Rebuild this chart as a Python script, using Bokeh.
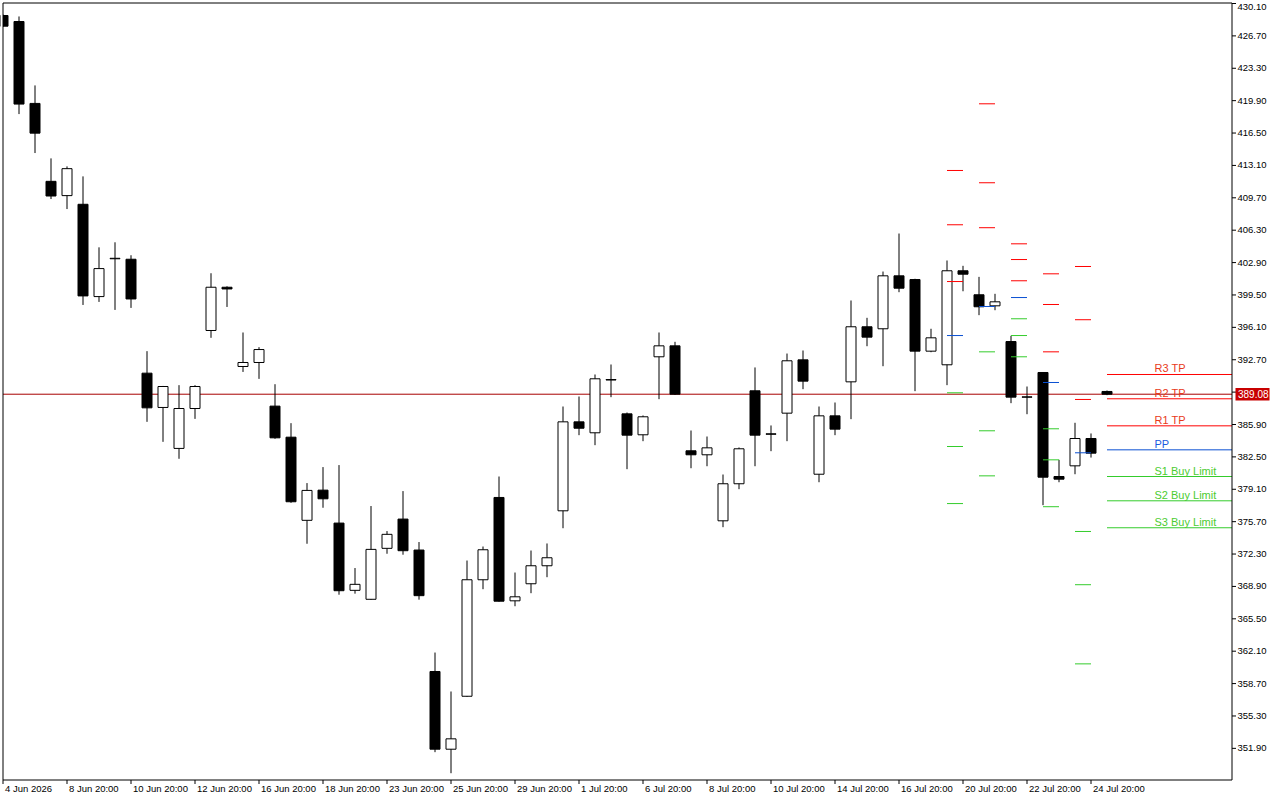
from bokeh.plotting import figure
from bokeh.models import Range1d, ColumnDataSource
from bokeh.embed import file_html
from bokeh.resources import INLINE
from bokeh.core.properties import value

# ---------------- data ----------------
opens = [428.84, 428.21, 419.61, 411.43, 409.93, 409.02, 399.33, 403.30, 403.25, 391.29,
         387.69, 383.39, 387.58, 395.77, 400.31, 391.99, 392.41, 387.83, 384.57, 375.84,
         379.01, 375.55, 368.49, 367.55, 372.90, 375.97, 372.72, 359.97, 351.81, 357.37,
         369.60, 378.24, 367.39, 369.18, 371.07, 376.84, 386.18, 385.03, 390.62, 387.02,
         384.82, 393.01, 394.16, 383.14, 382.72, 375.79, 379.68, 389.44, 384.92, 387.09,
         392.69, 380.68, 386.81, 390.38, 396.16, 395.95, 401.51, 401.12, 393.60, 392.17,
         402.04, 399.52, 398.36, 394.61, 388.80, 391.36, 380.44, 381.56, 384.43, 389.37]
highs = [428.95, 428.74, 421.50, 413.84, 413.00, 411.95, 404.50, 405.03, 403.67, 393.60,
         389.95, 390.03, 390.03, 401.78, 400.41, 395.56, 394.02, 390.13, 386.04, 379.75,
         381.43, 381.64, 370.83, 377.34, 374.71, 378.91, 373.56, 361.96, 357.87, 371.62,
         373.09, 380.44, 370.36, 372.67, 373.41, 387.79, 388.84, 391.15, 392.20, 387.16,
         386.85, 395.56, 394.58, 385.27, 384.64, 380.65, 383.49, 391.89, 385.80, 393.35,
         393.67, 387.79, 388.21, 398.92, 397.10, 401.96, 405.95, 401.20, 395.95, 403.12,
         402.56, 401.40, 399.62, 395.21, 389.89, 391.40, 382.19, 386.08, 384.96, 389.47]
lows = [427.65, 418.49, 414.40, 409.57, 408.52, 398.45, 398.77, 397.93, 398.14, 386.18,
        384.08, 382.30, 386.49, 395.00, 398.24, 391.42, 390.69, 384.40, 377.68, 373.38,
        377.16, 368.03, 368.14, 367.50, 372.33, 372.23, 367.51, 351.50, 349.29, 357.30,
        368.61, 367.30, 366.82, 368.19, 369.87, 375.01, 384.78, 383.73, 388.77, 381.21,
        384.15, 388.56, 389.00, 381.31, 381.52, 375.12, 379.11, 381.52, 383.10, 384.15,
        389.61, 379.84, 384.78, 386.46, 394.12, 392.02, 399.79, 389.40, 393.49, 390.03,
        399.89, 397.38, 397.90, 388.14, 386.98, 377.43, 379.84, 380.68, 382.43, 388.98]
closes = [427.72, 419.54, 416.49, 409.89, 412.76, 399.40, 402.27, 403.35, 399.08, 387.65,
          389.89, 387.58, 389.89, 400.31, 400.13, 392.41, 393.77, 384.50, 377.79, 378.98,
          378.10, 368.45, 369.12, 372.79, 374.37, 372.65, 367.93, 351.81, 352.90, 369.60,
          372.75, 367.35, 367.81, 371.07, 371.91, 386.18, 385.51, 390.70, 390.57, 384.78,
          386.71, 394.16, 389.08, 382.72, 383.45, 379.68, 383.35, 384.78, 384.88, 392.59,
          390.45, 386.81, 385.41, 396.16, 395.07, 401.51, 400.21, 393.60, 395.00, 402.04,
          401.68, 398.26, 398.78, 388.77, 388.77, 380.37, 380.16, 384.43, 382.89, 389.08]

x_tick_index = [0, 4, 8, 12, 16, 20, 24, 28, 32, 36, 40, 44, 48, 52, 56, 60, 64, 68]
x_tick_labels = ["4 Jun 2026", "8 Jun 20:00", "10 Jun 20:00", "12 Jun 20:00", "16 Jun 20:00",
                 "18 Jun 20:00", "23 Jun 20:00", "25 Jun 20:00", "29 Jun 20:00", "1 Jul 20:00",
                 "6 Jul 20:00", "8 Jul 20:00", "10 Jul 20:00", "14 Jul 20:00", "16 Jul 20:00",
                 "20 Jul 20:00", "22 Jul 20:00", "24 Jul 20:00"]
y_ticks = [351.90, 355.30, 358.70, 362.10, 365.50, 368.90, 372.30, 375.70, 379.10, 382.50,
           385.90, 389.30, 392.70, 396.10, 399.50, 402.90, 406.30, 409.70, 413.10, 416.50,
           419.90, 423.30, 426.70, 430.10]

pivot_names = ["R3", "R2", "R1", "PP", "S1", "S2", "S3"]
pivot_start = [59, 61, 63, 65, 67, 69]
pivot_end = [60, 62, 64, 66, 68, None]
pivot_levels = [
    [412.57, 406.87, 400.91, 395.24, 389.23, 383.59, 377.60],
    [419.57, 411.28, 406.56, 398.29, 393.53, 385.24, 380.51],
    [404.87, 403.22, 400.99, 399.23, 397.00, 395.24, 393.01],
    [401.72, 398.50, 393.53, 390.31, 385.45, 382.19, 377.27],
    [402.49, 396.90, 388.53, 382.93, 374.67, 369.08, 360.77],
    [391.15, 388.60, 385.76, 383.24, 380.44, 377.89, 375.06],
]
pivot_labels = ["R3 TP", "R2 TP", "R1 TP", "PP", "S1 Buy Limit", "S2 Buy Limit", "S3 Buy Limit"]
last_price = 389.08

# ---------------- layout / styles ----------------
W, H = 1280, 800
X0_PX, PITCH = 2.5, 16.0            # pixel centre of candle 0, pixels per candle
Y_REF_VAL, Y_REF_PX, PX_PER_UNIT = 430.1, 3.0, 9.525


def px2x(px):
    return (px - X0_PX) / PITCH


def py2v(py):
    return Y_REF_VAL - (py - Y_REF_PX) / PX_PER_UNIT


LEFT_PX, TOP_PX, RIGHT_PX, BOTTOM_PX = 2.5, 2.5, 1231.5, 779.5
X_LEFT, X_RIGHT = px2x(LEFT_PX), px2x(RIGHT_PX)
Y_TOP, Y_BOTTOM = py2v(TOP_PX), py2v(BOTTOM_PX)

RED = "#ff0000"
BLUE = "#0a50d2"
GREEN = "#34cc2c"
level_colors = [RED, RED, RED, BLUE, GREEN, GREEN, GREEN]
label_colors = ["#e83a1a", "#e83a1a", "#e83a1a", "#1a5ae0", "#4ccc30", "#4ccc30", "#4ccc30"]
FONT = "Liberation Sans"

p = figure(width=W, height=H, output_backend="svg", toolbar_location=None,
           x_range=Range1d(px2x(0), px2x(W)), y_range=Range1d(py2v(H), py2v(0)),
           x_axis_location=None, y_axis_location=None, min_border=0)
p.xgrid.visible = False
p.ygrid.visible = False
p.outline_line_color = None
p.background_fill_color = "white"
p.border_fill_color = "white"

# price line
p.segment(x0=[X_LEFT], y0=[last_price], x1=[X_RIGHT], y1=[last_price],
          line_color="#a80000", line_width=1)

# candles
xs = list(range(len(opens)))
src = ColumnDataSource(dict(
    x=xs, o=opens, h=highs, l=lows, c=closes,
    top=[max(o, c) for o, c in zip(opens, closes)],
    bottom=[min(o, c) for o, c in zip(opens, closes)],
    fill=["white" if c > o else "black" for o, c in zip(opens, closes)],
))
p.segment(x0="x", y0="l", x1="x", y1="h", source=src, line_color="black", line_width=1)
p.vbar(x="x", width=10 / PITCH, top="top", bottom="bottom", source=src,
       fill_color="fill", line_color="black", line_width=1)

# pivot segments
sx0, sx1, sy, sc = [], [], [], []
for st, en, levels in zip(pivot_start, pivot_end, pivot_levels):
    for lv, col in zip(levels, level_colors):
        sx0.append(st)
        sx1.append(en if en is not None else X_RIGHT)
        sy.append(lv)
        sc.append(col)
p.segment(x0=sx0, y0=sy, x1=sx1, y1=sy, line_color=sc, line_width=1)

# pivot labels for current period
p.text(x=[px2x(1154)] * len(pivot_labels), y=pivot_levels[-1], text=pivot_labels,
       text_color=label_colors, text_font=value(FONT), text_font_size="11px",
       text_align="left", text_baseline="bottom")

# mask outside the chart area (left strip, right axis area, bottom axis area)
p.quad(left=[px2x(0), X_RIGHT], right=[X_LEFT, px2x(W)],
       top=[py2v(0), py2v(0)], bottom=[py2v(H), py2v(H)],
       fill_color="white", line_color=None)
p.quad(left=[px2x(0)], right=[px2x(W)], top=[Y_BOTTOM], bottom=[py2v(H)],
       fill_color="white", line_color=None)

# frame: left, top, right axis, bottom axis
p.segment(x0=[X_LEFT, X_LEFT, X_RIGHT, X_LEFT], y0=[Y_BOTTOM, Y_TOP, Y_TOP, Y_BOTTOM],
          x1=[X_LEFT, X_RIGHT, X_RIGHT, X_RIGHT], y1=[Y_TOP, Y_TOP, Y_BOTTOM, Y_BOTTOM],
          line_color="black", line_width=1)

# y-axis ticks and labels (right); the top label is nudged down so it stays on the page
p.segment(x0=[X_RIGHT] * len(y_ticks), y0=y_ticks, x1=[px2x(RIGHT_PX + 4)] * len(y_ticks),
          y1=y_ticks, line_color="black", line_width=1)
label_offsets = [3 if v == max(y_ticks) else 0 for v in y_ticks]
p.text(x=[px2x(1237)] * len(y_ticks), y=y_ticks, text=[f"{v:.2f}" for v in y_ticks],
       y_offset=label_offsets,
       text_color="black", text_font=value(FONT), text_font_size="9.5px",
       text_align="left", text_baseline="middle")

# x-axis ticks and labels (bottom)
p.segment(x0=x_tick_index, y0=[Y_BOTTOM] * len(x_tick_index), x1=x_tick_index,
          y1=[py2v(BOTTOM_PX + 4)] * len(x_tick_index), line_color="black", line_width=1)
p.text(x=x_tick_index, y=[py2v(788)] * len(x_tick_index), text=x_tick_labels,
       x_offset=2, text_color="black", text_font=value(FONT), text_font_size="9.5px",
       text_align="left", text_baseline="middle")

# price tag on the axis
half_h = 6.2 / PX_PER_UNIT
p.quad(left=[px2x(1235)], right=[px2x(1269)], top=[last_price + half_h],
       bottom=[last_price - half_h], fill_color="#c80000", line_color=None)
p.text(x=[px2x(1237.5)], y=[last_price], text=[f"{last_price:.2f}"], text_color="white",
       text_font=value(FONT), text_font_size="10px", text_align="left",
       text_baseline="middle")

open("out.html", "w").write(file_html(p, INLINE))
